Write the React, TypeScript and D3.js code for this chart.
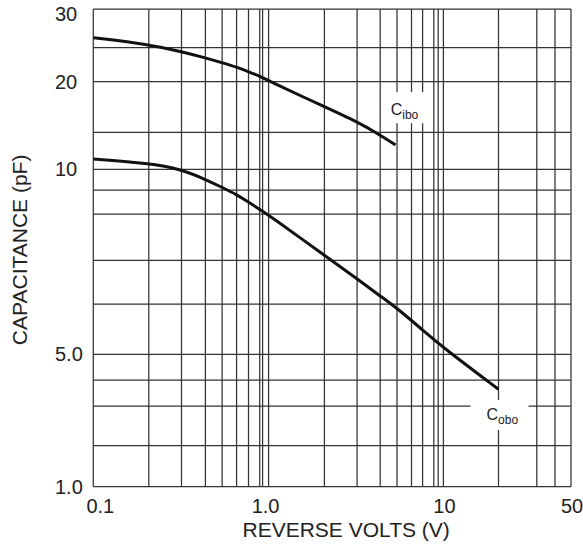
import React from "react";
import * as d3 from "d3";

// Grid ticks (value axis stops of the printed, hand-drawn log grid)
const xGrid = [0.1, 0.2, 0.3, 0.4, 0.5, 0.6, 0.7, 0.8, 0.9, 1, 2, 3, 4, 5, 6, 7, 8, 9, 10, 20, 30, 40, 50];
const yGrid = [1, 2, 3, 4, 5, 6, 7, 8, 9, 10, 15, 20, 25, 30];
const xTickLabels = [
  { v: 0.1, t: "0.1" },
  { v: 1, t: "1.0" },
  { v: 10, t: "10" },
  { v: 50, t: "50" },
];
const yTickLabels = [
  { v: 1, t: "1.0" },
  { v: 5, t: "5.0" },
  { v: 10, t: "10" },
  { v: 20, t: "20" },
  { v: 30, t: "30" },
];

// Series: reverse volts (V) vs capacitance (pF)
const voltsCibo = [0.1, 0.2, 0.3, 0.4, 0.5, 0.6, 0.7, 0.8, 1.0, 2, 3, 4, 4.9];
const capCibo = [26.2, 25.4, 24.35, 23.4, 22.65, 22.0, 21.35, 20.76, 20.1, 17.35, 15.93, 14.56, 13.05];
const voltsCobo = [0.1, 0.2, 0.3, 0.4, 0.5, 0.6, 0.7, 0.8, 1.0, 2, 3, 4, 5, 7, 10, 20];
const capCobo = [11.2, 10.68, 10.0, 9.5, 9.12, 8.8, 8.48, 8.18, 7.98, 7.1, 6.56, 6.17, 5.91, 5.46, 5.12, 3.61];

// Layout of the printed grid (pixel stops of each gridline)
const xStops = [93.3, 148.8, 181.5, 205.4, 222.1, 236.6, 248.5, 259.7, 262.6, 268.6, 324.4, 357.1, 380.2, 397, 411.5, 422.6, 433.8, 438.2, 443.4, 498.5, 536.8, 555, 571];
const yStops = [486.7, 445.7, 406, 380, 354.3, 304, 260.3, 214, 190, 169.3, 132.3, 81.7, 47.7, 9];

const W = 583;
const H = 548;
const FONT = "'Liberation Sans', Arial, sans-serif";
const GRID = "#333";
const TXT = "#222";

export default function App() {
  const x = d3.scaleLog().domain(xGrid).range(xStops);
  const y = d3.scaleLog().domain(yGrid).range(yStops);
  const x0 = x(0.1), x1 = x(50), y0 = y(1), y1 = y(30);

  const line = d3
    .line<[number, number]>()
    .x((d) => x(d[0]))
    .y((d) => y(d[1]))
    .curve(d3.curveBasis);

  const ciboPath = line(voltsCibo.map((v, i) => [v, capCibo[i]]));
  const coboPath = line(voltsCobo.map((v, i) => [v, capCobo[i]]));

  // label boxes anchored to data-space positions
  const ciboLbl = { x: x(4.6), y: y(17.5) };
  const coboLbl = { x: x(20), y: y(3) };

  return (
    <svg
      width={W}
      height={H}
      style={{ position: "absolute", left: 0, top: 0, background: "#fff" }}
      fontFamily={FONT}
    >
      <rect x={0} y={0} width={W} height={H} fill="#fff" />
      {/* grid */}
      <g stroke={GRID} strokeWidth={1.25}>
        {xGrid.map((v) => (
          <line key={"x" + v} x1={x(v)} x2={x(v)} y1={y1} y2={y0} />
        ))}
        {yGrid.map((v) => (
          <line key={"y" + v} x1={x0} x2={x1} y1={y(v)} y2={y(v)} />
        ))}
      </g>
      {/* label knockouts */}
      <rect x={ciboLbl.x - 8} y={ciboLbl.y - 13} width={46} height={31} fill="#fff" />
      <rect x={coboLbl.x - 28} y={coboLbl.y - 6} width={58} height={30} fill="#fff" />
      {/* curves */}
      <path d={ciboPath || ""} fill="none" stroke="#111" strokeWidth={3} />
      <path d={coboPath || ""} fill="none" stroke="#111" strokeWidth={3} />
      {/* curve labels */}
      <text x={ciboLbl.x} y={ciboLbl.y + 10} fontSize={16} fill={TXT}>
        C<tspan fontSize={12} dy={4}>ibo</tspan>
      </text>
      <text x={coboLbl.x - 12} y={coboLbl.y + 14} fontSize={16} fill={TXT}>
        C<tspan fontSize={12} dy={4}>obo</tspan>
      </text>
      {/* y tick labels */}
      {yTickLabels.map((d) => (
        <text key={d.t} x={55} y={Math.max(y(d.v), 13.5)} dy="0.35em" fontSize={20} fill={TXT}>
          {d.t}
        </text>
      ))}
      {/* x tick labels */}
      {xTickLabels.map((d, i) => (
        <text
          key={d.t}
          x={x(d.v) + (i === 0 ? 7 : i === 1 ? -3 : 1)}
          y={513}
          textAnchor="middle"
          fontSize={20}
          fill={TXT}
        >
          {d.t}
        </text>
      ))}
      {/* axis titles */}
      <text x={(x0 + x1) / 2 + 14} y={537} textAnchor="middle" fontSize={21} fill={TXT}>
        REVERSE VOLTS (V)
      </text>
      <text
        transform={`translate(27, ${(y0 + y1) / 2 + 2}) rotate(-90)`}
        textAnchor="middle"
        fontSize={21}
        fill={TXT}
      >
        CAPACITANCE (pF)
      </text>
    </svg>
  );
}
